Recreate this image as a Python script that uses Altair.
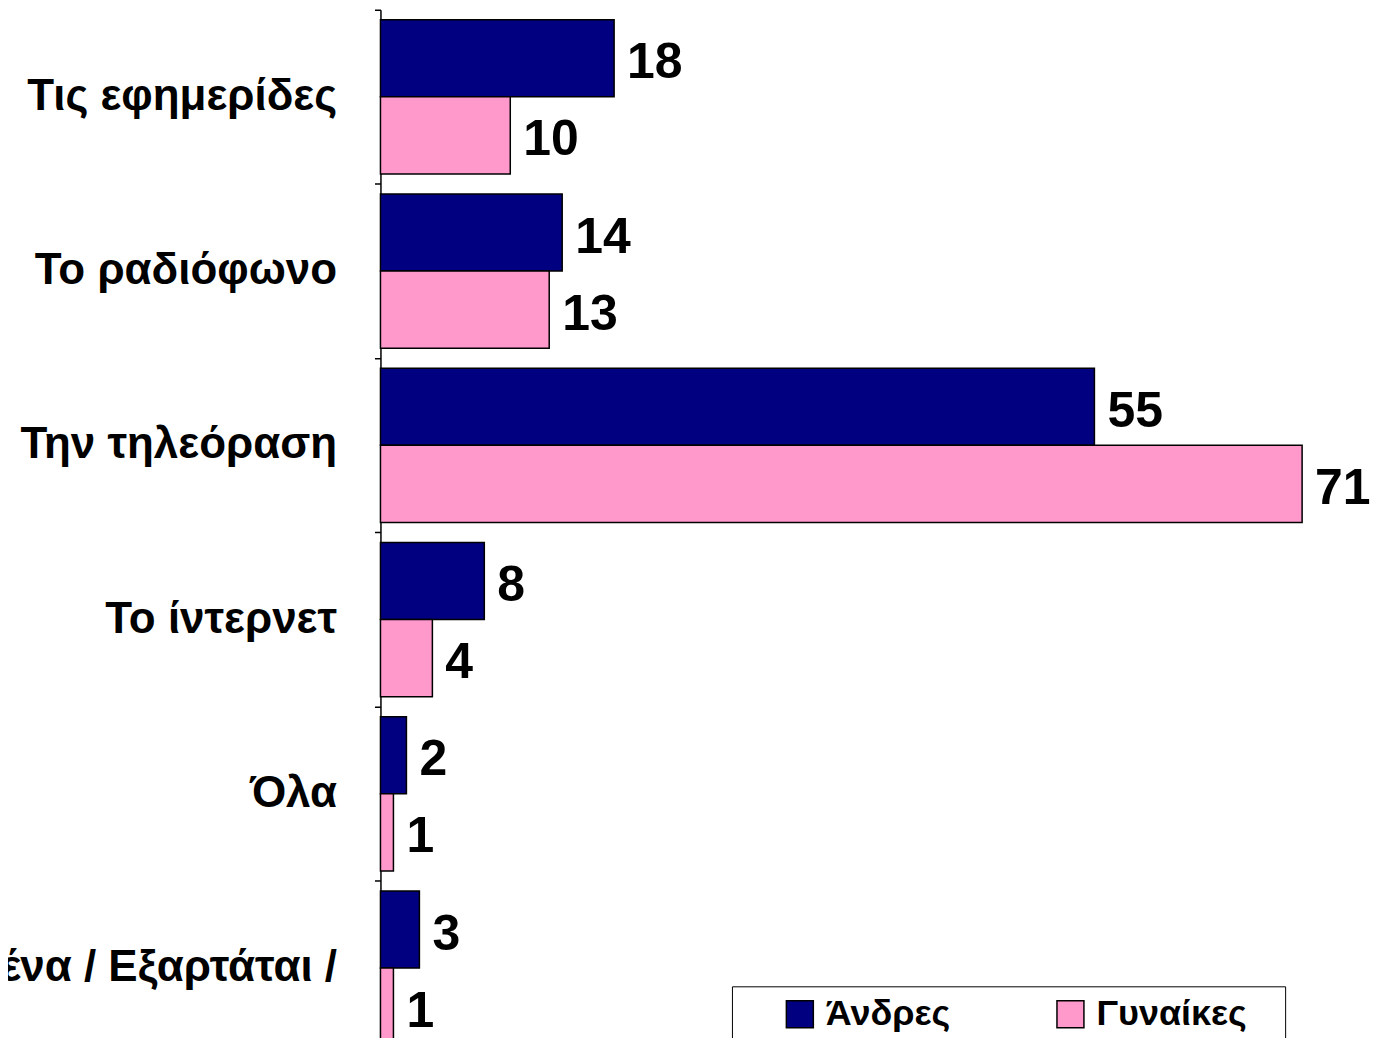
import altair as alt
import pandas as pd

categories = ["Τις εφημερίδες", "Το ραδιόφωνο", "Την τηλεόραση", "Το ίντερνετ", "Όλα", "Κανένα / Εξαρτάται /"]
series = ["Άνδρες", "Γυναίκες"]
men = [18, 14, 55, 8, 2, 3]
women = [10, 13, 71, 4, 1, 1]
colors = ["#000080", "#FF99CC"]

rows = []
for c, m, w in zip(categories, men, women):
    rows.append({"cat": c, "series": series[0], "value": m})
    rows.append({"cat": c, "series": series[1], "value": w})
df = pd.DataFrame(rows)

FONT = "Liberation Sans Narrow, Arial Narrow, Liberation Sans, Arial, sans-serif"

y_enc = alt.Y(
    "cat:N",
    sort=categories,
    scale=alt.Scale(paddingInner=0, paddingOuter=0, range=[0, 1047]),
    axis=alt.Axis(
        title=None,
        bandPosition=0,
        labelPadding=38,
        tickSize=6,
        tickColor="black",
        tickWidth=1.5,
        domainColor="black",
        domainWidth=1.5,
        labelFont=FONT,
        labelFontSize=44,
        labelFontWeight="bold",
        labelColor="black",
        labelLimit=800,
        labelLineHeight=50,
        labelExpr="datum.value == 'Κανένα / Εξαρτάται /' ? ['Κανένα / Εξαρτάται /', ''] : datum.value",
    ),
)
yoff = alt.YOffset("series:N", sort=series, scale=alt.Scale(paddingInner=0, paddingOuter=0.13))
x_enc = alt.X("value:Q", scale=alt.Scale(domain=[0, 73], nice=False), axis=None)

bars = alt.Chart(df).mark_bar(stroke="black", strokeWidth=1.5).encode(
    x=x_enc,
    y=y_enc,
    yOffset=yoff,
    color=alt.Color(
        "series:N",
        sort=series,
        scale=alt.Scale(domain=series, range=colors),
        legend=alt.Legend(
            title=" ",
            titleOrient="right",
            titlePadding=28,
            orient="none",
            legendX=352,
            legendY=978,
            direction="horizontal",
            padding=10,
            strokeColor="black",
            fillColor="white",
            symbolType="square",
            symbolSize=729,
            symbolStrokeColor="black",
            symbolStrokeWidth=1.5,
            symbolOffset=40,
            labelFont=FONT,
            labelFontSize=36,
            labelFontWeight="bold",
            labelColor="black",
            labelOffset=8,
            columnPadding=62,
            labelLimit=400,
        ),
    ),
)

labels = alt.Chart(df).mark_text(
    align="left", baseline="middle", dx=13, dy=5,
    font=FONT, fontSize=50, fontWeight="bold", color="black",
).encode(
    x=x_enc,
    y=alt.Y("cat:N", sort=categories),
    yOffset=yoff,
    text="value:Q",
)

chart = (
    alt.layer(bars, labels, view=alt.ViewBackground(strokeWidth=0, strokeOpacity=0))
    .properties(
        width=949,
        height=1029,
        autosize=alt.AutoSizeParams(type="none"),
        padding={"left": 373, "top": 1, "right": 50, "bottom": 0},
    )
    .configure_view(strokeWidth=0, strokeOpacity=0)
    .configure(background="white")
)

chart.save("out.html", embed_options={"renderer": "svg", "actions": False})
